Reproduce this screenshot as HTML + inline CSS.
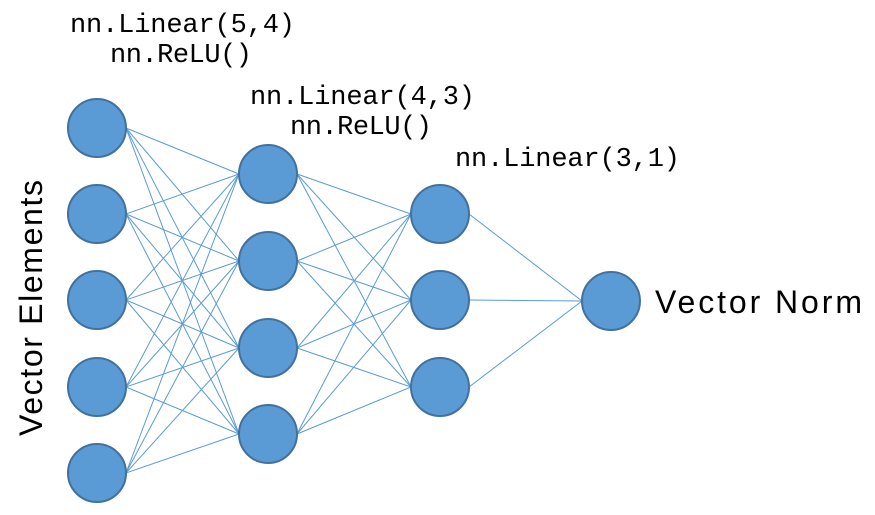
<!DOCTYPE html>
<html><head><style>
body{margin:0;background:#fff;}
svg{display:block;}
.m{font-family:"Liberation Mono",monospace;font-size:27px;fill:#000;}
.s{font-family:"Liberation Sans",sans-serif;font-size:32px;fill:#000;}
</style></head><body>
<svg width="875" height="515" xmlns="http://www.w3.org/2000/svg">
<g stroke="#5b9bd5" stroke-width="1">
<line x1="126" y1="128" x2="239" y2="174"/><line x1="126" y1="128" x2="239" y2="261"/><line x1="126" y1="128" x2="239" y2="348"/><line x1="126" y1="128" x2="239" y2="434"/>
<line x1="126" y1="214" x2="239" y2="174"/><line x1="126" y1="214" x2="239" y2="261"/><line x1="126" y1="214" x2="239" y2="348"/><line x1="126" y1="214" x2="239" y2="434"/>
<line x1="126" y1="300" x2="239" y2="174"/><line x1="126" y1="300" x2="239" y2="261"/><line x1="126" y1="300" x2="239" y2="348"/><line x1="126" y1="300" x2="239" y2="434"/>
<line x1="126" y1="387" x2="239" y2="174"/><line x1="126" y1="387" x2="239" y2="261"/><line x1="126" y1="387" x2="239" y2="348"/><line x1="126" y1="387" x2="239" y2="434"/>
<line x1="126" y1="473" x2="239" y2="174"/><line x1="126" y1="473" x2="239" y2="261"/><line x1="126" y1="473" x2="239" y2="348"/><line x1="126" y1="473" x2="239" y2="434"/>
<line x1="297" y1="174" x2="411" y2="214"/><line x1="297" y1="174" x2="411" y2="300"/><line x1="297" y1="174" x2="411" y2="387"/>
<line x1="297" y1="261" x2="411" y2="214"/><line x1="297" y1="261" x2="411" y2="300"/><line x1="297" y1="261" x2="411" y2="387"/>
<line x1="297" y1="348" x2="411" y2="214"/><line x1="297" y1="348" x2="411" y2="300"/><line x1="297" y1="348" x2="411" y2="387"/>
<line x1="297" y1="434" x2="411" y2="214"/><line x1="297" y1="434" x2="411" y2="300"/><line x1="297" y1="434" x2="411" y2="387"/>
<line x1="469" y1="214" x2="582" y2="301"/><line x1="469" y1="300" x2="582" y2="301"/><line x1="469" y1="387" x2="582" y2="301"/>
</g>
<g fill="#5b9bd5" stroke="#41719c" stroke-width="2">
<circle cx="97" cy="128" r="29"/><circle cx="97" cy="214" r="29"/><circle cx="97" cy="300" r="29"/><circle cx="97" cy="387" r="29"/><circle cx="97" cy="473" r="29"/>
<circle cx="268" cy="174" r="29"/><circle cx="268" cy="261" r="29"/><circle cx="268" cy="348" r="29"/><circle cx="268" cy="434" r="29"/>
<circle cx="440" cy="214" r="29"/><circle cx="440" cy="300" r="29"/><circle cx="440" cy="387" r="29"/>
<circle cx="611" cy="301" r="29"/>
</g>
<text class="m" x="70" y="32" textLength="225">nn.Linear(5,4)</text>
<text class="m" x="110" y="62" textLength="142">nn.ReLU()</text>
<text class="m" x="250" y="104" textLength="225">nn.Linear(4,3)</text>
<text class="m" x="290" y="134" textLength="142">nn.ReLU()</text>
<text class="m" x="455" y="166" textLength="225">nn.Linear(3,1)</text>
<text class="s" x="655" y="313" textLength="207">Vector Norm</text>
<text class="s" transform="translate(42,308) rotate(-90)" x="-128" y="0" textLength="256">Vector Elements</text>
</svg>
</body></html>
